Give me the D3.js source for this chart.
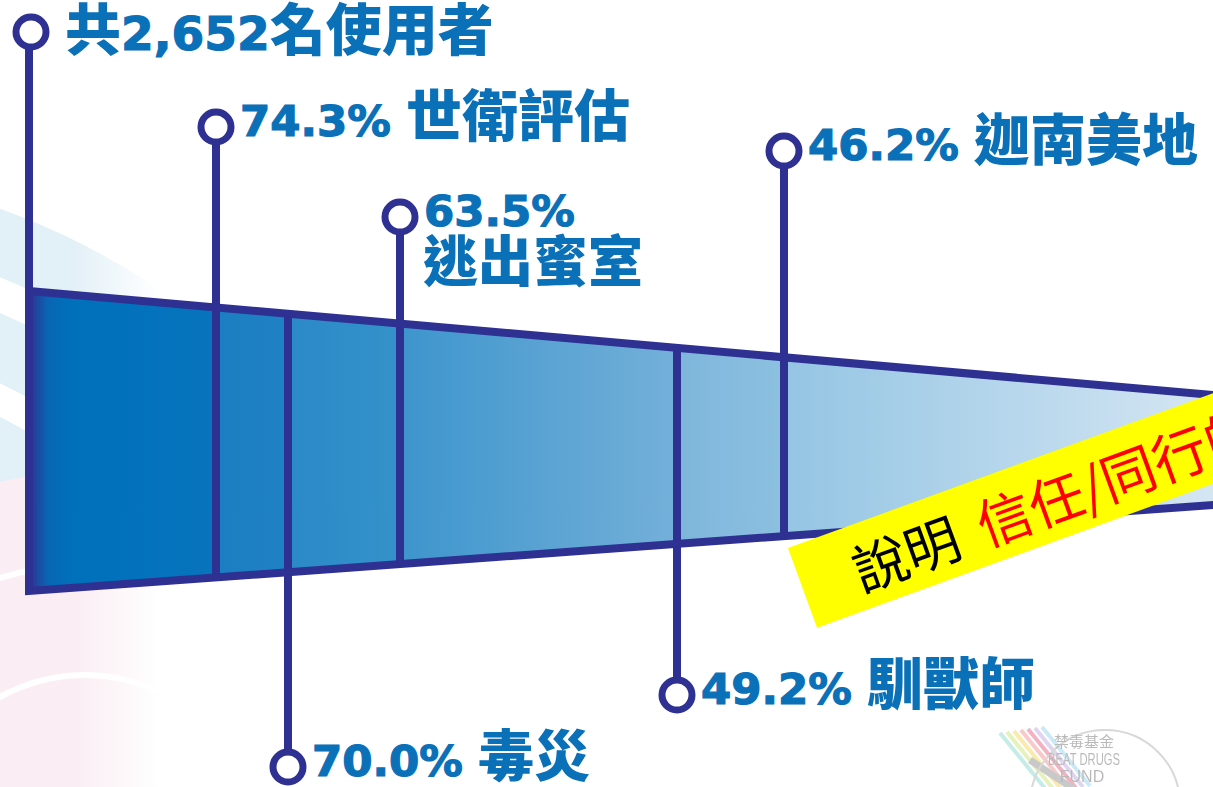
<!doctype html>
<html>
  <head>
    <meta charset="UTF-8"/>
    <title>使用者</title>
    <script src="https://d3js.org/d3.v7.min.js"></script>
    <style>
      body {
          margin: 0;
          padding: 0;
          background: #fff;
          overflow: hidden;
      }
      svg { display: block; }
      .num { font-family: "DejaVu Sans", sans-serif; font-weight: bold; stroke: #0a70b8; stroke-width: 1.2px; }
      .cjk { font-family: "Noto Sans CJK TC", sans-serif; font-weight: 900; }
    </style>
  </head>
  <body>
    <svg id="chart" width="1213" height="787"></svg>
    <script>
      // data
      const total = 2652;
      const stages = ["世衛評估", "毒災", "逃出蜜室", "馴獸師", "迦南美地"];
      const rates = [74.3, 70.0, 63.5, 49.2, 46.2];
      const sides = ["up", "down", "up", "down", "up"];
      const noteLead = "說明";
      const noteText = "信任/同行的";

      // layout
      const W = 1213, H = 787;
      const ink = "#2e3192", blue = "#0a70b8";
      const pinY = [32, 127, 767, 217, 695, 151];
      const R = 15;

      // pins were hand placed along the funnel, so a piecewise scale
      const x = d3.scaleLinear().domain([100, ...rates]).range([29, 216, 288, 400, 677, 784]);
      const yTop = d3.scaleLinear().domain([29, 1213]).range([291, 395]);
      const yBot = d3.scaleLinear().domain([29, 1213]).range([591, 505]);
      const fmt = d3.format(".1f");

      const svg = d3.select("#chart");
      const defs = svg.append("defs");

      // faint background swooshes, fading out to the right
      const fade = defs.append("linearGradient").attr("id", "fade")
        .attr("gradientUnits", "userSpaceOnUse")
        .attr("x1", 0).attr("x2", 160).attr("y1", 0).attr("y2", 0);
      fade.append("stop").attr("offset", 0).attr("stop-color", "#fff");
      fade.append("stop").attr("offset", 0.45).attr("stop-color", "#fff");
      fade.append("stop").attr("offset", 1).attr("stop-color", "#000");
      defs.append("mask").attr("id", "bgmask")
        .attr("maskUnits", "userSpaceOnUse")
        .attr("x", 0).attr("y", 0).attr("width", W).attr("height", H)
        .append("rect").attr("width", 160).attr("height", H).attr("fill", "url(#fade)");

      const bg = svg.append("g").attr("fill", "none").attr("mask", "url(#bgmask)");
      [703, 606, 512].forEach(r => {
        bg.append("circle").attr("cx", -250).attr("cy", 900).attr("r", r)
          .attr("stroke", "#e2f0f7").attr("stroke-width", 64);
      });
      [[333, 90], [230, 104]].forEach(([r, w]) => {
        bg.append("circle").attr("cx", 85).attr("cy", 850).attr("r", r)
          .attr("stroke", "#faedf3").attr("stroke-width", w);
      });
      bg.append("circle").attr("cx", 85).attr("cy", 850).attr("r", 172).attr("fill", "#faedf3");

      // funnel fill
      const grad = defs.append("linearGradient").attr("id", "fill")
        .attr("gradientUnits", "userSpaceOnUse")
        .attr("x1", 29).attr("x2", 1213).attr("y1", 0).attr("y2", 0);
      const stops = [
        [29, "#2e3192"], [48, "#0966b3"], [70, "#0070bb"], [216, "#0774bd"],
        [216, "#1b7ec2"], [288, "#2082c4"],
        [288, "#2a89c7"], [400, "#3592ca"],
        [400, "#3d95cc"], [677, "#74b0d9"],
        [677, "#7db6db"], [784, "#8dc0e0"],
        [784, "#94c5e3"], [1213, "#d5e6f3"]
      ];
      grad.selectAll("stop").data(stops).join("stop")
        .attr("offset", d => (d[0] - 29) / (1213 - 29))
        .attr("stop-color", d => d[1]);

      const xEnd = 1300;
      const funnel = d3.line()([
        [29, yTop(29)], [xEnd, yTop(xEnd)], [xEnd, yBot(xEnd)], [29, yBot(29)]
      ]) + "Z";
      svg.append("path").attr("d", funnel).attr("fill", "url(#fill)");

      // pins
      const pins = svg.append("g").attr("stroke", ink).attr("stroke-width", 8);
      pins.append("line")
        .attr("x1", 29).attr("x2", 29)
        .attr("y1", pinY[0] + R).attr("y2", yBot(29));
      rates.forEach((r, i) => {
        const cx = x(r), cy = pinY[i + 1];
        const up = sides[i] === "up";
        pins.append("line")
          .attr("x1", cx).attr("x2", cx)
          .attr("y1", up ? cy + R : yTop(cx))
          .attr("y2", up ? yBot(cx) : cy - R);
      });

      svg.append("path").attr("d", funnel)
        .attr("fill", "none").attr("stroke", ink).attr("stroke-width", 8)
        .attr("stroke-linejoin", "miter");

      const circ = svg.append("g").attr("fill", "#fff").attr("stroke", ink).attr("stroke-width", 7);
      circ.append("circle").attr("cx", 31).attr("cy", pinY[0]).attr("r", R);
      rates.forEach((r, i) => {
        circ.append("circle").attr("cx", x(r)).attr("cy", pinY[i + 1]).attr("r", R);
      });

      // labels
      const lab = svg.append("g").attr("fill", blue);
      const t0 = lab.append("text").attr("x", 65).attr("y", pinY[0] + 18);
      t0.append("tspan").attr("class", "cjk").attr("font-size", 56).text("共");
      t0.append("tspan").attr("class", "num").attr("font-size", 47).text(d3.format(",")(total));
      t0.append("tspan").attr("class", "cjk").attr("font-size", 56).text("名使用者");

      rates.forEach((r, i) => {
        const cx = x(r), cy = pinY[i + 1];
        const t = lab.append("text").attr("x", cx + 24).attr("y", cy + 9);
        t.append("tspan").attr("class", "num").attr("font-size", 43.5).text(fmt(r) + "%");
        if (i === 2) {
          lab.append("text").attr("x", cx + 23).attr("y", 281)
            .attr("class", "cjk").attr("font-size", 55).text(stages[i]);
        } else {
          t.append("tspan").attr("class", "num").attr("font-size", 43.5).text(" ");
          t.append("tspan").attr("class", "cjk").attr("font-size", 56).text(stages[i]);
        }
      });

      // logo, faint
      const logo = svg.append("g").attr("opacity", 0.45);
      const stripe = ["#7fd6c8", "#c9e36a", "#f6d24a", "#f28a8a", "#e5557a", "#b9a3e0", "#8fd0f0"];
      stripe.forEach((c, i) => {
        logo.append("line")
          .attr("x1", 1000 + i * 7).attr("y1", 733 - i * 1)
          .attr("x2", 1048 + i * 7).attr("y2", 792 - i * 1)
          .attr("stroke", c).attr("stroke-width", 4);
      });
      logo.append("line").attr("x1", 1030).attr("y1", 760).attr("x2", 1075).attr("y2", 790)
        .attr("stroke", "#888").attr("stroke-width", 7);
      logo.append("circle").attr("cx", 1105).attr("cy", 805).attr("r", 75)
        .attr("fill", "none").attr("stroke", "#aaa").attr("stroke-width", 2);
      const lt = logo.append("g").attr("fill", "#666").attr("text-anchor", "middle");
      lt.append("text").attr("x", 1084).attr("y", 747).attr("font-size", 15)
        .attr("font-family", "Noto Sans CJK TC").text("禁毒基金");
      lt.append("text").attr("x", 1084).attr("y", 765).attr("font-size", 16)
        .attr("font-family", "Liberation Sans Narrow, Liberation Sans").attr("textLength", 72)
        .attr("lengthAdjust", "spacingAndGlyphs").text("BEAT DRUGS");
      lt.append("text").attr("x", 1082).attr("y", 782).attr("font-size", 16)
        .attr("font-family", "Liberation Sans Narrow, Liberation Sans").text("FUND");

      // yellow note banner
      const note = svg.append("g").attr("transform", "translate(788,548) rotate(-20)");
      note.append("rect").attr("width", 800).attr("height", 85).attr("fill", "#ffff00");
      const nt = note.append("text").attr("x", 54).attr("y", 43)
        .attr("dominant-baseline", "central")
        .attr("font-family", "Noto Sans CJK TC").attr("font-weight", 400)
        .attr("font-size", 55);
      nt.append("tspan").attr("fill", "#000").text(noteLead);
      nt.append("tspan").attr("dx", 22).attr("fill", "#ff0000").text(noteText);
    </script>
  </body>
</html>
